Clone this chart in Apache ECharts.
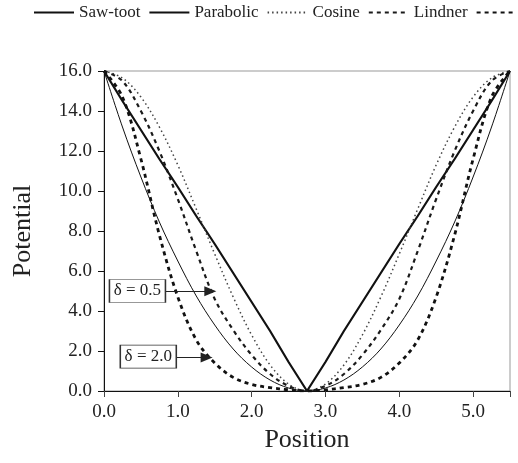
<!DOCTYPE html>
<html><head><meta charset="utf-8">
<script src="https://cdn.jsdelivr.net/npm/echarts@6/dist/echarts.min.js"></script>
<style>html,body{margin:0;padding:0;background:#fff}#c{width:518px;height:463px}</style>
</head><body><div id="c"></div>
<script>
// ---- data ----
const positions = [0,0.25,0.5,0.75,1,1.25,1.5,1.75,2,2.25,2.5,2.75,3,3.25,3.5,3.75,4,4.25,4.5,4.75,5,5.25,5.5];
const sawTooth  = [16,14.5,13.05,11.6,10.2,8.75,7.35,5.9,4.45,3.0,1.45,0,1.45,3.0,4.45,5.9,7.35,8.75,10.2,11.6,13.05,14.5,16];
const parabolic = [16,13.2,10.7,8.45,6.5,4.75,3.3,2.1,1.2,0.55,0.15,0,0.15,0.55,1.2,2.1,3.3,4.75,6.5,8.45,10.7,13.2,16];
const cosine    = [16,15.65,14.7,13.2,11.3,9.1,6.85,4.7,2.8,1.3,0.35,0,0.35,1.3,2.8,4.7,6.85,9.1,11.3,13.2,14.7,15.65,16];
const lindner05 = [16,15.5,14.0,12.0,9.6,7.0,4.6,3.05,1.8,0.85,0.25,0,0.25,0.85,1.8,3.05,4.6,7.0,9.6,12.0,14.0,15.5,16];
const lindner20 = [16,14.7,11.6,7.8,4.7,2.55,1.4,0.68,0.33,0.17,0.06,0,0.06,0.17,0.33,0.68,1.4,2.55,4.7,7.8,11.6,14.7,16];
const seriesNames = ['Saw-toot','Parabolic','Cosine','Lindner','Lindner (δ = 2.0)'];
const xTicks = [0,1,2,3,4,5];
const yTicks = [0,2,4,6,8,10,12,14,16];
const xTitle = 'Position';
const yTitle = 'Potential';
const annotLabels = ['δ = 0.5','δ = 2.0'];
const annotBoxX = [0.453, 0.60];
const annotBoxY = [5.0, 1.72];
const arrowStartX = [0.83, 0.98];
const arrowEndX = [1.44, 1.39];
const arrowY = [4.99, 1.68];

const FONT = "'Liberation Serif','Times New Roman',serif";
const pairs = v => positions.map((x,i)=>[x,v[i]]);

const styles = [
  {color:'#111', width:2.2, type:'solid', smooth:false},
  {color:'#111', width:1, type:'solid', smooth:0.35},
  {color:'#444', width:1.5, type:[1.5,3], smooth:0.35},
  {color:'#1a1a1a', width:2.2, type:[4,4], smooth:0.35},
  {color:'#111', width:2.8, type:[4,4], smooth:0.35}
];
const values = [sawTooth, parabolic, cosine, lindner05, lindner20];

const series = values.map((v,i)=>({
  name: seriesNames[i], type:'line', data: pairs(v), symbol:'none',
  smooth: styles[i].smooth,
  lineStyle:{color:styles[i].color, width:styles[i].width, type:styles[i].type},
  itemStyle:{color:styles[i].color},
  animation:false, silent:true, z: 3
}));

series.push({
  name:'annot', type:'line', data:[], animation:false, silent:true, z:5,
  markLine:{
    silent:true, animation:false, symbol:['none','triangle'], symbolSize:[10,12],
    label:{show:false},
    lineStyle:{color:'#222', width:1, type:'solid'},
    data: annotLabels.map((t,i)=>[{coord:[arrowStartX[i],arrowY[i]]},{coord:[arrowEndX[i],arrowY[i]]}])
  },
  markPoint:{
    silent:true, animation:false, symbol:'rect', symbolSize:[56,23],
    itemStyle:{color:'#fff', borderColor:'#333', borderWidth:1},
    label:{show:true, position:'inside', color:'#222', fontSize:17, fontFamily:FONT, formatter: p=>p.name},
    data: annotLabels.map((t,i)=>({name:t, coord:[annotBoxX[i],annotBoxY[i]]}))
  }
});

const chart = echarts.init(document.getElementById('c'), null, {renderer:'canvas'});
chart.setOption({
  backgroundColor:'#fff',
  animation:false,
  legend:{
    data: seriesNames, left:33, top:4, padding:0, width:1200, itemWidth:40, itemHeight:14, itemGap:8,
    textStyle:{fontSize:17, fontFamily:FONT, color:'#222'},
    itemStyle:{color:'rgba(0,0,0,0)', borderColor:'rgba(0,0,0,0)', borderWidth:0, opacity:0},
    selectedMode:false
  },
  grid:{left:104, right:8, top:71, bottom:72, show:true, borderColor:'#999', borderWidth:1, containLabel:false},
  xAxis:{
    type:'value', min:0, max:5.5, interval:1,
    name:xTitle, nameLocation:'middle', nameGap:36,
    nameTextStyle:{fontSize:26, fontFamily:FONT, color:'#222'},
    axisLine:{show:true, lineStyle:{color:'#111', width:1}},
    axisTick:{show:true, length:6, lineStyle:{color:'#444'}},
    splitLine:{show:false},
    axisLabel:{fontSize:19, fontFamily:FONT, color:'#222', margin:12,
      formatter: v => xTicks.includes(v) ? v.toFixed(1) : ''}
  },
  yAxis:{
    type:'value', min:0, max:16, interval:2,
    name:yTitle, nameLocation:'middle', nameGap:68, nameRotate:90,
    nameTextStyle:{fontSize:26, fontFamily:FONT, color:'#222'},
    axisLine:{show:true, lineStyle:{color:'#111', width:1}},
    axisTick:{show:true, length:6, lineStyle:{color:'#111'}},
    splitLine:{show:false},
    axisLabel:{fontSize:19, fontFamily:FONT, color:'#222', margin:12,
      formatter: v => yTicks.includes(v) ? v.toFixed(1) : ''}
  },
  series: series
});
</script></body></html>
